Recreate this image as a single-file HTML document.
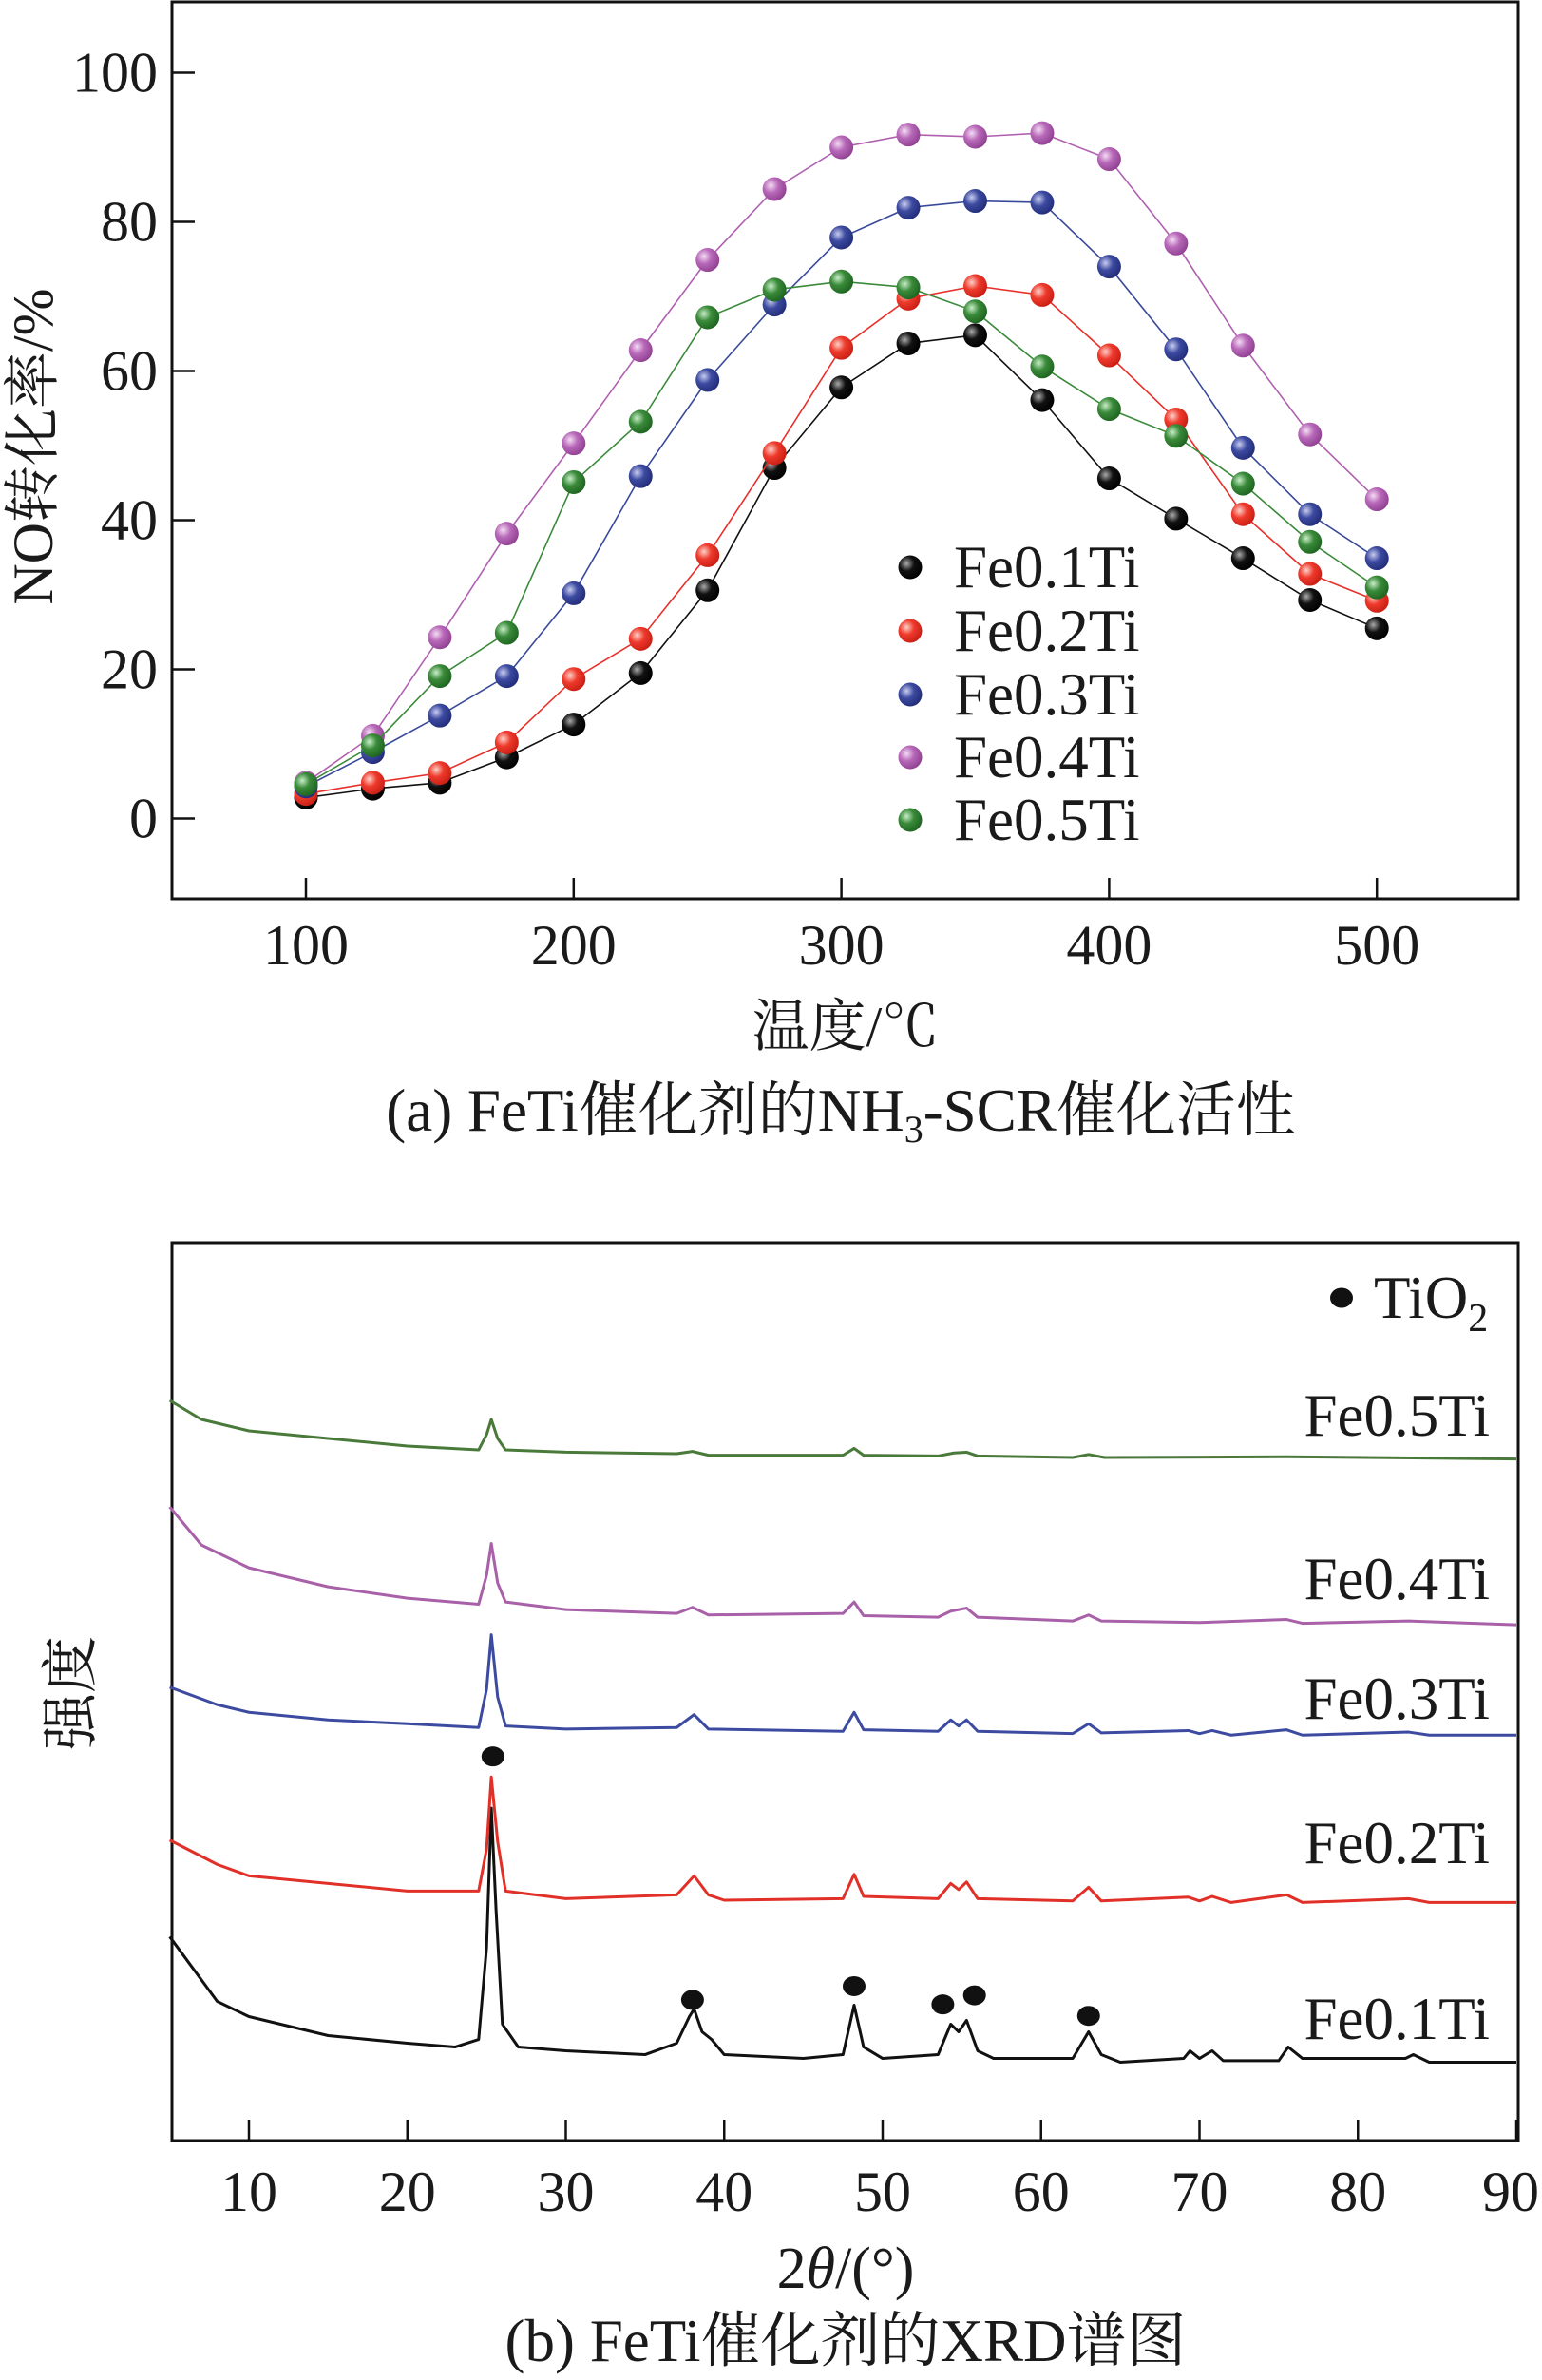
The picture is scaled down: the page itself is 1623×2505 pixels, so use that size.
<!DOCTYPE html>
<html><head><meta charset="utf-8">
<style>
html,body{margin:0;padding:0;background:#fff;}
svg{display:block;}
text{font-family:"Liberation Serif","Noto Serif CJK SC",serif;fill:#1a1a1a;}
</style></head>
<body>
<svg id="chart" width="1623" height="2505" viewBox="0 0 1623 2505" xmlns="http://www.w3.org/2000/svg">
<defs>
<radialGradient id="g-black" cx="0.35" cy="0.35" r="0.7"><stop offset="0" stop-color="#aaa"/><stop offset="0.45" stop-color="#111"/><stop offset="1" stop-color="#000"/></radialGradient>
<radialGradient id="g-red" cx="0.35" cy="0.35" r="0.7"><stop offset="0" stop-color="#ffd0c8"/><stop offset="0.45" stop-color="#ee3a2c"/><stop offset="1" stop-color="#c81e14"/></radialGradient>
<radialGradient id="g-blue" cx="0.35" cy="0.35" r="0.7"><stop offset="0" stop-color="#c8ccf0"/><stop offset="0.45" stop-color="#3c4aa0"/><stop offset="1" stop-color="#222c78"/></radialGradient>
<radialGradient id="g-purple" cx="0.35" cy="0.35" r="0.7"><stop offset="0" stop-color="#f4dcf4"/><stop offset="0.45" stop-color="#b868b8"/><stop offset="1" stop-color="#904090"/></radialGradient>
<radialGradient id="g-green" cx="0.35" cy="0.35" r="0.7"><stop offset="0" stop-color="#c8eec8"/><stop offset="0.45" stop-color="#3a8a3a"/><stop offset="1" stop-color="#1e6420"/></radialGradient>
</defs>
<g id="topchart"></g>
<g id="botchart"></g>
</svg>
<script>
// ---------- Chart (a) data ----------
const temps = [100,125,150,175,200,225,250,275,300,325,350,375,400,425,450,475,500];
const fe01 = [2.8,4,4.8,8.2,12.6,19.5,30.6,47,57.8,63.7,64.8,56.1,45.6,40.2,34.9,29.3,25.5];
const fe02 = [3.3,4.8,6.1,10.2,18.7,24.1,35.3,49,63.1,69.7,71.4,70.2,62.1,53.5,40.8,32.8,29.2];
const fe03 = [4.3,8.9,13.8,19.1,30.2,45.9,58.8,68.9,77.9,81.9,82.8,82.6,74,62.9,49.7,40.8,34.9];
const fe04 = [4.8,11.1,24.3,38.2,50.3,62.8,74.9,84.4,90,91.7,91.4,91.9,88.4,77.1,63.4,51.5,42.8];
const fe05 = [4.6,9.8,19.1,24.9,45.1,53.2,67.2,70.9,72,71.2,68,60.6,54.9,51.3,44.9,37.1,31];
const seriesNames = ["Fe0.1Ti","Fe0.2Ti","Fe0.3Ti","Fe0.4Ti","Fe0.5Ti"];
const yTicksA = [0,20,40,60,80,100];
const xTicksA = [100,200,300,400,500];

// ---------- Chart (b) data (2θ, intensity a.u.) ----------
const xrdNames = ["Fe0.1Ti","Fe0.2Ti","Fe0.3Ti","Fe0.4Ti","Fe0.5Ti"];
const x01 = [5,8,10,15,20,23,24.5,25.0,25.3,25.6,26,27,30,35,37,37.8,38.1,38.6,39.2,40,45,47.5,48.2,48.8,50,53.5,54.3,54.8,55.3,56,57,62,63,63.8,65,69,69.4,70,70.8,71.5,75,75.6,76.5,83,83.5,84.5,90];
const i01 = [268,183,163,138,128,123,133,253,437,303,153,123,118,113,128,163,173,143,133,113,108,113,178,123,108,113,153,143,158,118,108,108,143,113,103,108,118,108,118,105,105,123,108,108,113,103,103];
const x02 = [5,8,10,15,20,24.5,25.0,25.3,25.7,26.2,30,37,38.1,39,40,47.5,48.2,48.8,53.5,54.3,54.8,55.3,56,62,63,63.8,69.3,70,70.8,72,75.5,76.5,83.2,84.5,90];
const i02 = [395,363,348,338,328,328,383,478,393,328,318,323,348,323,316,318,350,321,318,338,330,340,318,315,333,315,320,315,321,313,323,313,318,313,313];
const x03 = [5,8,10,15,20,24.5,25.0,25.3,25.7,26.2,30,37,38.1,39,47.5,48.2,48.8,53.5,54.3,54.8,55.3,56,62,63,63.8,69.3,70,70.8,72,75.5,76.5,83.2,84.5,90];
const i03 = [596,573,563,553,548,543,593,665,583,545,541,543,560,541,538,563,540,538,553,545,553,538,535,548,536,539,535,539,533,540,533,537,533,533];
const x04 = [5,7,10,15,20,24.5,25.0,25.3,25.7,26.2,30,37,38,39,47.5,48.2,48.8,53.5,54.3,55.3,56,62,63,63.8,70,75.5,76.5,83.2,90];
const i04 = [833,783,753,728,713,705,743,785,733,708,698,693,701,691,693,708,690,688,696,700,688,683,691,683,681,685,680,683,678];
const x05 = [5,7,10,15,20,24.5,25.0,25.3,25.7,26.2,30,37,38,39,47.5,48.2,48.8,53.5,54.5,55.3,56,62,63,64,75.5,90];
const i05 = [973,948,933,923,913,908,928,948,923,908,905,903,906,901,901,910,901,900,904,905,900,898,902,898,899,896];
const markX = [25.4,38.0,48.2,53.8,55.8,63.0];
const markI = [505,185,203,179,191,164];
const xTicksB = [10,20,30,40,50,60,70,80,90];

const NS = "http://www.w3.org/2000/svg";
function mk(tag, attrs, parent){const e=document.createElementNS(NS,tag);for(const k in attrs)e.setAttribute(k,attrs[k]);parent.appendChild(e);return e;}

// ===== Chart (a) =====
const A = {l:181,r:1598,t:2,b:946};
const xA = v => 322 + (v-100)*2.818;
const yA = v => 861.5 - v*7.85;
const topG = document.getElementById('topchart');
const frameA = mk('rect',{x:A.l,y:A.t,width:A.r-A.l,height:A.b-A.t,fill:'none',stroke:'#111','stroke-width':3},topG);


yTicksA.forEach(v=>{
  const t=mk('line',{x1:A.l,x2:A.l+24,y1:yA(v),y2:yA(v),stroke:'#111','stroke-width':2.5},topG);
  
  
  const l=mk('text',{x:166,y:yA(v)+20,'text-anchor':'end','font-size':60},topG);
  l.textContent=v;
  
  
});
xTicksA.forEach(v=>{
  const t=mk('line',{x1:xA(v),x2:xA(v),y1:A.b,y2:A.b-22,stroke:'#111','stroke-width':2.5},topG);
  
  
  const l=mk('text',{x:xA(v),y:1015,'text-anchor':'middle','font-size':60},topG);
  l.textContent=v;
  
  
});
const seriesA=[fe01,fe02,fe03,fe04,fe05];
const colsA=['#111','#e8302a','#3a4a9a','#b060b0','#3a8a3a'];
const grads=['g-black','g-red','g-blue','g-purple','g-green'];
[0,1,2,3,4].forEach(si=>{
  const vals=seriesA[si];
  const g=mk('g',{},topG);
  
  
  const pl=mk('polyline',{points:temps.map((t,i)=>xA(t)+','+yA(vals[i])).join(' '),fill:'none',stroke:colsA[si],'stroke-width':1.6},g);
  
  
  temps.forEach((t,i)=>{
    const c=mk('circle',{cx:xA(t),cy:yA(vals[i]),r:12.5,fill:'url(#'+grads[si]+')'},g);
    
    
  });
});
const legY=[597,664,731,797,863];
seriesNames.forEach((n,i)=>{
  const g=mk('g',{},topG);
  
  
  mk('circle',{cx:958,cy:legY[i],r:12.5,fill:'url(#'+grads[i]+')'},g);
  const t=mk('text',{x:1004,y:legY[i]+21,'font-size':63},g);
  t.textContent=n;
});
const yt=mk('text',{x:0,y:0,'font-size':60,'text-anchor':'middle',transform:'translate(55,470) rotate(-90)'},topG);
yt.textContent='NO转化率/%';


const xt=mk('text',{x:890,y:1101,'font-size':60,'text-anchor':'middle'},topG);
xt.textContent='温度/℃';


const capA=mk('text',{x:885,y:1190,'font-size':63,'text-anchor':'middle'},topG);
const c1=mk('tspan',{},capA); c1.textContent='(a) FeTi催化剂的NH';
const c2=mk('tspan',{'font-size':40,dy:12},capA); c2.textContent='3';
const c3=mk('tspan',{dy:-12},capA); c3.textContent='-SCR催化活性';



// ===== Chart (b) =====
const B = {l:181,r:1598,t:1308,b:2253};
const xB = d => 262 + (d-10)*16.675;
const yB = v => B.b - v/1.249;
const botG=document.getElementById('botchart');
const frameB=mk('rect',{x:B.l,y:B.t,width:B.r-B.l,height:B.b-B.t,fill:'none',stroke:'#111','stroke-width':3},botG);


xTicksB.forEach(v=>{
  const t=mk('line',{x1:xB(v),x2:xB(v),y1:B.b,y2:B.b-22,stroke:'#111','stroke-width':2.5},botG);
  
  
  const l=mk('text',{x:xB(v)+(v===90?-6:0),y:2327,'text-anchor':'middle','font-size':60},botG);
  l.textContent=v;
  
  
});
const xs=[x01,x02,x03,x04,x05], is=[i01,i02,i03,i04,i05];
const colsB=['#111','#e03028','#3c4aa0','#a860a8','#4a7a3a'];
[4,3,2,0,1].forEach(si=>{
  const p=mk('polyline',{points:xs[si].map((d,i)=>xB(d)+','+yB(is[si][i])).join(' '),fill:'none',stroke:colsB[si],'stroke-width':3,'stroke-linejoin':'round'},botG);
  
  
});
markX.forEach((d,i)=>{
  const c=mk('ellipse',{cx:xB(d),cy:yB(markI[i]),rx:12,ry:10.5,fill:'#111'},botG);
  
  
});
const labY=[2125,1940,1788,1662,1490];
xrdNames.forEach((n,i)=>{
  const t=mk('text',{x:1568,y:labY[i]+21,'font-size':63,'text-anchor':'end'},botG);
  t.textContent=n;
  
  
});
const lg=mk('g',{},botG);


mk('ellipse',{cx:1412,cy:1366,rx:12,ry:10.5,fill:'#111'},lg);
const lt=mk('text',{x:1446,y:1387,'font-size':63},lg);
const l1=mk('tspan',{},lt); l1.textContent='TiO';
const l2=mk('tspan',{'font-size':42,dy:14},lt); l2.textContent='2';
const ytb=mk('text',{x:0,y:0,'font-size':60,'text-anchor':'middle',transform:'translate(95,1782) rotate(-90)'},botG);
ytb.textContent='强度';


const xtb=mk('text',{x:890,y:2408,'font-size':62,'text-anchor':'middle'},botG);
const t1=mk('tspan',{},xtb); t1.textContent='2';
const t2=mk('tspan',{'font-style':'italic'},xtb); t2.textContent='θ';
const t3=mk('tspan',{},xtb); t3.textContent='/(°)';


const capB=mk('text',{x:890,y:2485,'font-size':63,'text-anchor':'middle'},botG);
capB.textContent='(b) FeTi催化剂的XRD谱图';


</script>
</body></html>
